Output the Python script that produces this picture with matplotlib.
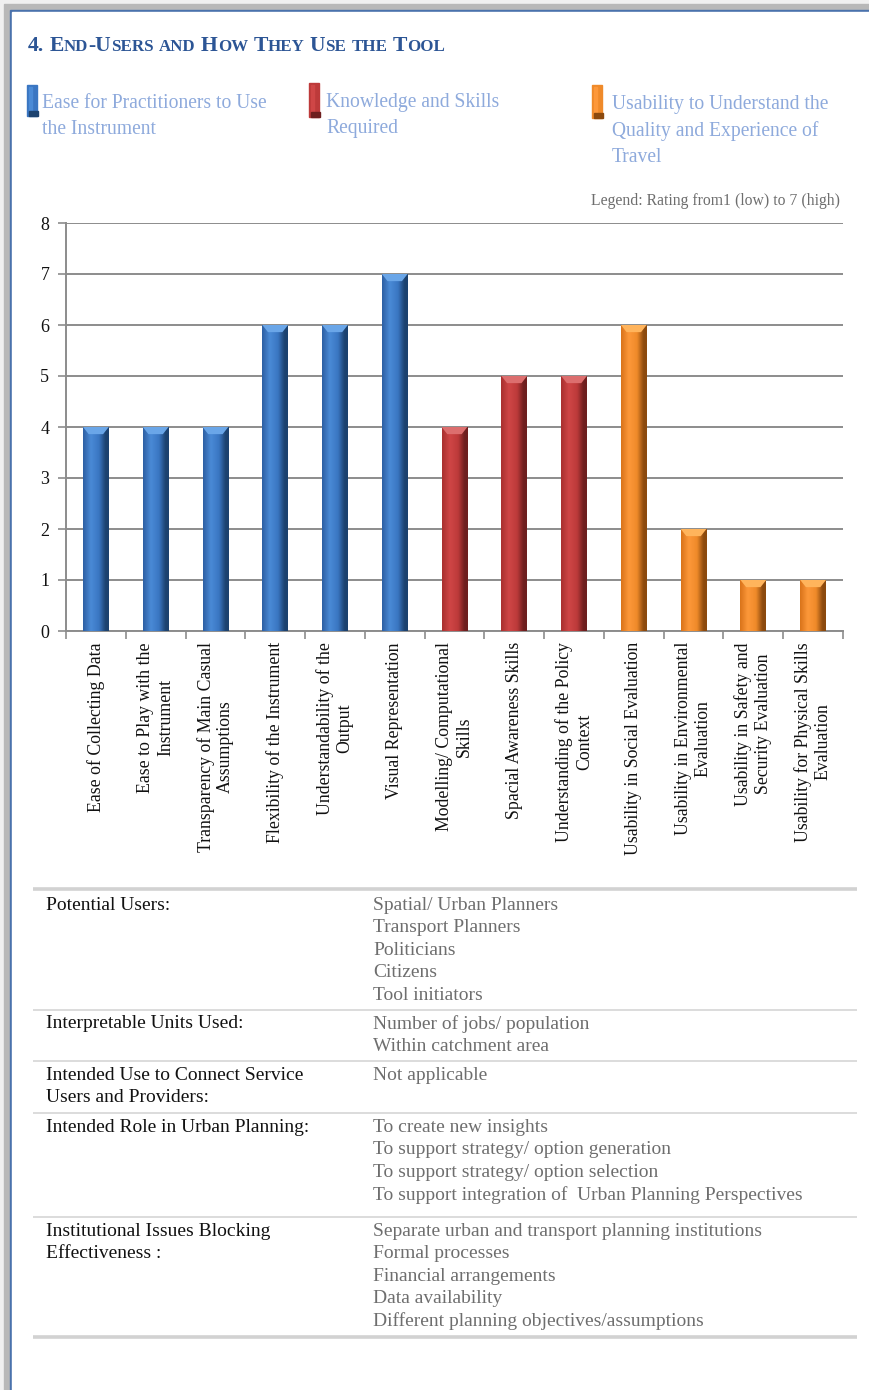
import numpy as np
import matplotlib
matplotlib.use("Agg")
import matplotlib.pyplot as plt
from matplotlib.patches import Rectangle, Polygon
from matplotlib.colors import LinearSegmentedColormap

plt.rcParams["font.family"] = ["Liberation Serif", "DejaVu Serif"]

# ---- data -------------------------------------------------------------
categories = [
    "Ease of Collecting Data",
    "Ease to Play with the\nInstrument",
    "Transparency of Main Casual\nAssumptions",
    "Flexibility of the Instrument",
    "Understandability of the\nOutput",
    "Visual Representation",
    "Modelling/ Computational\nSkills",
    "Spacial Awareness Skills",
    "Understanding of the Policy\nContext",
    "Usability in Social Evaluation",
    "Usability in Environmental\nEvaluation",
    "Usability in Safety and\nSecurity Evaluation",
    "Usability for Physical Skills\nEvaluation",
]
ratings = [4, 4, 4, 6, 6, 7, 4, 5, 5, 6, 2, 1, 1]
groups = [0, 0, 0, 0, 0, 0, 1, 1, 1, 2, 2, 2, 2]
group_names = [
    ["Ease for Practitioners to Use", "the Instrument"],
    ["Knowledge and Skills", "Required"],
    ["Usability to Understand the", "Quality and Experience of", "Travel"],
]
y_ticks = [0, 1, 2, 3, 4, 5, 6, 7, 8]

table_labels = [
    ["Potential Users:"],
    ["Interpretable Units Used:"],
    ["Intended Use to Connect Service", "Users and Providers:"],
    ["Intended Role in Urban Planning:"],
    ["Institutional Issues Blocking", "Effectiveness :"],
]
table_values = [
    ["Spatial/ Urban Planners", "Transport Planners", "Politicians",
     "Citizens", "Tool initiators"],
    ["Number of jobs/ population", "Within catchment area"],
    ["Not applicable"],
    ["To create new insights", "To support strategy/ option generation",
     "To support strategy/ option selection",
     "To support integration of  Urban Planning Perspectives"],
    ["Separate urban and transport planning institutions", "Formal processes",
     "Financial arrangements", "Data availability",
     "Different planning objectives/assumptions"],
]

# ---- styling ------------------------------------------------------------
W, H = 869, 1390
group_colors = [
    # left, highlight, mid, right edge
    ["#2d5fa3", "#4a8ad6", "#3a76c2", "#1c426f"],
    ["#a8302f", "#cf4646", "#bd3a3a", "#6e1f1f"],
    ["#d9731a", "#fd983a", "#ef8a2a", "#8c4a0e"],
]
cap_colors = ["#6aa6e8", "#dc6e6e", "#ffb45c"]
legend_text_color = "#8eaadc"
title_color = "#2c5595"
grid_color = "#8c8c8c"

fig = plt.figure(figsize=(W / 100, H / 100), dpi=100)

# page background in pixel coordinates
bg = fig.add_axes([0, 0, 1, 1])
bg.set_xlim(0, W)
bg.set_ylim(H, 0)
bg.axis("off")
bg.add_patch(Rectangle((0, 0), W, H, color="#f0f0f0", zorder=0))
bg.add_patch(Rectangle((4, 4), W, H, color="#b8b8b8", zorder=0))
bg.add_patch(Rectangle((10, 10), W, H, color="#4a72ac", zorder=0))
bg.add_patch(Rectangle((12, 12), W, H, color="white", zorder=0))

# ---- title in small caps -----------------------------------------------
renderer = fig.canvas.get_renderer()


def text_width(s, size, weight):
    t = bg.text(0, 0, s, fontsize=size, fontweight=weight)
    w = t.get_window_extent(renderer).width
    t.remove()
    return w


def small_caps(x, y, s, big, small, color, weight="bold"):
    space = text_width("x x", big, weight) - text_width("xx", big, weight)
    for wi, word in enumerate(s.split(" ")):
        if wi:
            x += space
        # split the word into runs of upper / lower characters
        runs = []
        for ch in word:
            low = ch.islower()
            if runs and runs[-1][1] == low:
                runs[-1][0] += ch
            else:
                runs.append([ch, low])
        for txt, low in runs:
            size = small if low else big
            t = bg.text(x, y, txt.upper(), fontsize=size, fontweight=weight,
                        color=color, va="baseline", ha="left")
            x += t.get_window_extent(renderer).width


small_caps(28, 51, "4. End-Users and How They Use the Tool", 15.6, 12.2,
           title_color)

# ---- legend with cylinder icons ------------------------------------------
legend_x = [27, 309, 592]
legend_text_dx = [15, 17, 20]
legend_icon_y = [(85, 116), (83, 117), (85, 118)]
legend_text_y = [[103, 130], [102, 129], [105, 131, 157]]
for g in range(3):
    x0 = legend_x[g]
    y0, y1 = legend_icon_y[g]
    c = group_colors[g]
    bg.add_patch(Rectangle((x0, y0), 10, y1 - y0, color=c[2], zorder=2))
    bg.add_patch(Rectangle((x0 + 2, y0 + 2), 3, y1 - y0 - 6,
                           color=c[1], zorder=3))
    bg.add_patch(Rectangle((x0 + 2, y1 - 5), 9, 5, color=c[3], zorder=3))
    for line, ly in zip(group_names[g], legend_text_y[g]):
        bg.text(x0 + legend_text_dx[g], ly, line, fontsize=14.1,
                color=legend_text_color, va="center", ha="left")

bg.text(840, 201, "Legend: Rating from1 (low) to 7 (high)", fontsize=11.3,
        color="#6e6e6e", ha="right", va="center")

# ---- bar chart -------------------------------------------------------------
ax = fig.add_axes([66 / W, 1 - 631 / H, (843 - 66) / W, (631 - 223) / H])
ax.set_facecolor("none")
ax.set_zorder(2)
x = np.arange(len(categories))
bar_w = 0.43
bars = ax.bar(x, ratings, width=bar_w, zorder=2,
              color=[group_colors[g][2] for g in groups], linewidth=0)

for rect, g, val in zip(bars, groups, ratings):
    c = group_colors[g]
    cmap = LinearSegmentedColormap.from_list(
        "cyl", [(0.0, c[0]), (0.3, c[1]), (0.62, c[2]), (0.88, c[3]), (1.0, c[3])])
    grad = np.linspace(0, 1, 64)[None, :]
    x0 = rect.get_x()
    x1 = x0 + rect.get_width()
    im = ax.imshow(grad, cmap=cmap, extent=[x0, x1, 0, val], aspect="auto",
                   interpolation="bicubic", zorder=3)
    im.set_clip_path(rect)
    # bevelled top cap
    d = 0.14
    inset = rect.get_width() * 0.22
    ax.add_patch(Polygon([(x0, val), (x1, val), (x1 - inset, val - d),
                          (x0 + inset, val - d)], closed=True,
                         color=cap_colors[g], zorder=4, lw=0))

ax.set_xlim(-0.5, len(categories) - 0.5)
ax.set_ylim(0, 8)
ax.set_yticks(y_ticks)
ax.set_yticklabels([str(v) for v in y_ticks], fontsize=13, color="#111111")
ax.yaxis.grid(True, color=grid_color, lw=1.4, zorder=0)
ax.set_axisbelow(True)
for s in ["top", "right"]:
    ax.spines[s].set_visible(False)
for s in ["left", "bottom"]:
    ax.spines[s].set_color(grid_color)
    ax.spines[s].set_linewidth(1.4)
ax.tick_params(axis="y", length=6, width=1.2, color=grid_color, pad=6)

ax.set_xticks(x)
ax.set_xticklabels(categories, rotation=90, fontsize=12.8, color="#111111",
                   ha="center", va="top", multialignment="center")
ax.tick_params(axis="x", which="major", length=0, pad=8)
ax.set_xticks(np.arange(-0.5, len(categories), 1), minor=True)
ax.tick_params(axis="x", which="minor", length=6, width=1.2, color=grid_color,
               direction="out")

# ---- details table -----------------------------------------------------------
line_y = [889, 1010, 1061, 1113, 1217, 1337]
for i, ly in enumerate(line_y):
    thick = i in (0, len(line_y) - 1)
    bg.plot([33, 857], [ly, ly], color="#d2d2d2" if thick else "#dcdcdc",
            lw=2.6 if thick else 1.4, solid_capstyle="butt", zorder=1)

row_first_y = [905, 1024, 1075, 1127, 1231]
step = 22.6
for r in range(len(table_labels)):
    for k, line in enumerate(table_labels[r]):
        bg.text(46, row_first_y[r] + k * step, line, fontsize=14,
                color="#111111", va="center", ha="left")
    for k, line in enumerate(table_values[r]):
        bg.text(373, row_first_y[r] + k * step, line, fontsize=14,
                color="#6e6e6e", va="center", ha="left")

fig.savefig("out.png", dpi=100)
